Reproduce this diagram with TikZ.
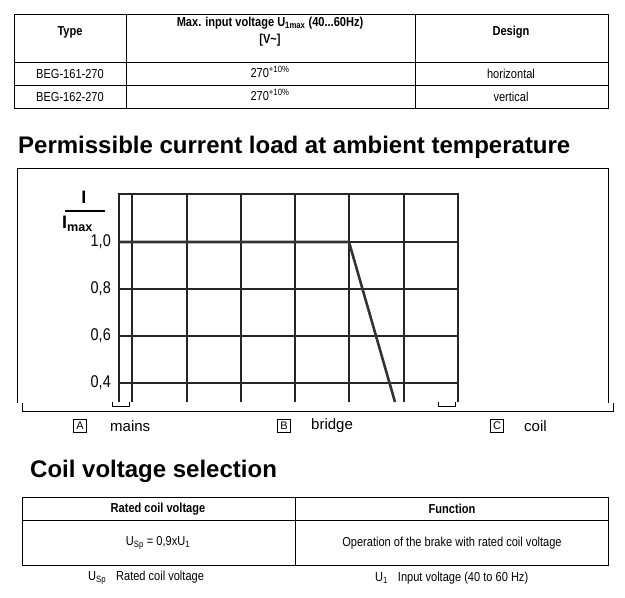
\documentclass[tikz,border=0pt]{standalone}
\usepackage{fontspec}
\setmainfont{Liberation Sans}
\newfontfamily\narrowf[FakeStretch=0.85]{Liberation Sans}
\begin{document}
\begin{tikzpicture}[x=1pt,y=-1pt,
  tb/.style={font=\narrowf\fontsize{13}{15}\selectfont, inner sep=0pt},
  tbb/.style={font=\narrowf\bfseries\fontsize{13}{16}\selectfont, inner sep=0pt, align=center},
  ttl/.style={font=\bfseries\fontsize{24}{28}\selectfont, inner sep=0pt, anchor=west},
  grid/.style={line width=1.3pt, black!85},
  lbl/.style={font=\narrowf\fontsize{17}{19}\selectfont, inner sep=0pt},
  lg/.style={font=\fontsize{15}{17}\selectfont, inner sep=0pt, anchor=west},
  bx/.style={draw, line width=0.6pt, font=\fontsize{11}{12}\selectfont, inner sep=1.2pt, minimum width=13pt, minimum height=13pt}]
\useasboundingbox (0,0) rectangle (625,598);
% top table
\draw[line width=0.8pt] (14,14) rectangle (608,108);
\draw[line width=0.8pt] (126,14) -- (126,108) (415,14) -- (415,108) (14,62) -- (608,62) (14,85) -- (608,85);
\node[tbb] (h1) at (70,32) {Type};
\node[tbb] (h2) at (270,32) {Max. input voltage U\textsubscript{1max} (40...60Hz)\\[1pt][V\textasciitilde]};
\node[tbb] (h3) at (511,32) {Design};
\node[tb] (r1a) at (70,74) {BEG-161-270};
\node[tb] (r1b) at (270,72) {270\textsuperscript{+10\%}};
\node[tb] (r1c) at (511,74) {horizontal};
\node[tb] (r2a) at (70,97) {BEG-162-270};
\node[tb] (r2b) at (270,95) {270\textsuperscript{+10\%}};
\node[tb] (r2c) at (511,97) {vertical};
% title
\node[ttl] (t1) at (18,147) {Permissible current load at ambient temperature};
% frame
\draw[line width=0.8pt] (17,403) -- (17,168) -- (608,168) -- (608,403);
\draw[line width=0.8pt] (22,403) -- (22,411) -- (613,411) -- (613,403);
\draw[line width=0.6pt] (112,402) -- (112,406) -- (129,406) -- (129,402);
\draw[line width=0.6pt] (438,402) -- (438,406) -- (455,406) -- (455,402);
% grid
\foreach \x in {132,187,241,295,349,404} \draw[grid] (\x,194) -- (\x,402);
\draw[grid] (119,402) -- (119,194) -- (458,194) -- (458,402);
\foreach \y in {242,289,336,383} \draw[grid] (119,\y) -- (458,\y);
\draw[line width=2.6pt, black!80] (119,242) -- (349,242) -- (395,402);
\node[lbl, anchor=east] (l10) at (111,242) {1,0};
\node[lbl, anchor=east] (l08) at (111,289) {0,8};
\node[lbl, anchor=east] (l06) at (111,336) {0,6};
\node[lbl, anchor=east] (l04) at (111,383) {0,4};
\draw[line width=1.2pt] (65,211) -- (105,211);
\node[font=\bfseries\fontsize{18}{19}\selectfont, inner sep=0pt] (I) at (84,197) {I};
\node[font=\bfseries\fontsize{18}{19}\selectfont, inner sep=0pt, anchor=west] (Im) at (62,224) {I\textsubscript{max}};
% legend
\node[bx] (A) at (80,426) {A};
\node[lg] (Al) at (110,426) {mains};
\node[bx] (B) at (284,426) {B};
\node[lg] (Bl) at (311,426) {bridge};
\node[bx] (C) at (497,426) {C};
\node[lg] (Cl) at (524,426) {coil};
% second title
\node[ttl] (t2) at (30,471) {Coil voltage selection};
% bottom table
\draw[line width=0.8pt] (22,497) rectangle (608,565);
\draw[line width=0.8pt] (22,520) -- (608,520) (295,497) -- (295,565);
\node[tbb] (b1) at (158,509) {Rated coil voltage};
\node[tbb] (b2) at (452,509) {Function};
\node[tb] (b3) at (158,543) {U\textsubscript{Sp} = 0,9xU\textsubscript{1}};
\node[tb] (b4) at (452,543) {Operation of the brake with rated coil voltage};
\node[tb, anchor=west] (f1) at (88,578) {U\textsubscript{Sp}\hspace{10pt}Rated coil voltage};
\node[tb, anchor=west] (f2) at (375,578) {U\textsubscript{1}\hspace{10pt}Input voltage (40 to 60 Hz)};
\end{tikzpicture}
\end{document}
